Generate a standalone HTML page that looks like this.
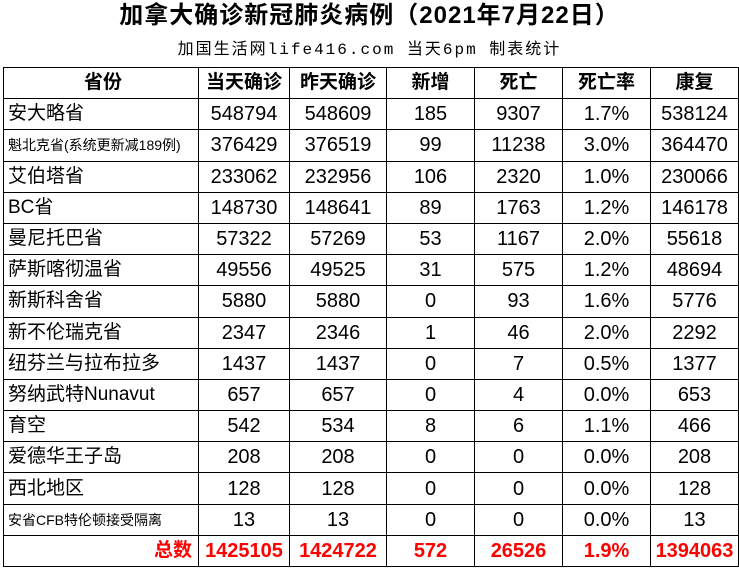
<!DOCTYPE html>
<html><head><meta charset="utf-8"><style>
body{margin:0;width:739px;height:581px;background:#fff;position:relative;overflow:hidden;font-family:"Liberation Sans","Noto Sans CJK SC",sans-serif;}
.t{position:absolute;left:0;width:739px;text-align:center;top:0;font-size:24px;font-weight:bold;line-height:32px;letter-spacing:1px}
.s{position:absolute;left:0;width:739px;text-align:center;top:38px;font-size:16px;line-height:24px;letter-spacing:2px;font-family:"Liberation Mono","Noto Sans CJK SC",monospace}
table{position:absolute;left:3px;top:67px;border-collapse:collapse;table-layout:fixed;width:735px;height:499px}
tr{height:31.2px}
td{border:1.5px solid #000;padding:0;text-align:center;font-size:20px;line-height:20px;white-space:nowrap;overflow:hidden}
td:first-child{text-align:left;padding-left:4px;font-size:19px}
tr.h td{font-weight:bold;text-align:center;font-size:19px}
tr.tot td{color:#f00;font-weight:bold}
tr.tot td:first-child{text-align:right;padding-right:6px}
.sm{font-size:14px!important}
</style></head><body>
<div class="t">加拿大确诊新冠肺炎病例（2021年7月22日）</div>
<div class="s">加国生活网life416.com 当天6pm 制表统计</div>
<table>
<colgroup><col style="width:195px"><col style="width:91px"><col style="width:97px"><col style="width:88px"><col style="width:88px"><col style="width:88px"><col style="width:88px"></colgroup>
<tr class="h"><td>省份</td><td>当天确诊</td><td>昨天确诊</td><td>新增</td><td>死亡</td><td>死亡率</td><td>康复</td></tr>
<tr><td>安大略省</td><td>548794</td><td>548609</td><td>185</td><td>9307</td><td>1.7%</td><td>538124</td></tr>
<tr><td class="sm">魁北克省(系统更新减189例)</td><td>376429</td><td>376519</td><td>99</td><td>11238</td><td>3.0%</td><td>364470</td></tr>
<tr><td>艾伯塔省</td><td>233062</td><td>232956</td><td>106</td><td>2320</td><td>1.0%</td><td>230066</td></tr>
<tr><td>BC省</td><td>148730</td><td>148641</td><td>89</td><td>1763</td><td>1.2%</td><td>146178</td></tr>
<tr><td>曼尼托巴省</td><td>57322</td><td>57269</td><td>53</td><td>1167</td><td>2.0%</td><td>55618</td></tr>
<tr><td>萨斯喀彻温省</td><td>49556</td><td>49525</td><td>31</td><td>575</td><td>1.2%</td><td>48694</td></tr>
<tr><td>新斯科舍省</td><td>5880</td><td>5880</td><td>0</td><td>93</td><td>1.6%</td><td>5776</td></tr>
<tr><td>新不伦瑞克省</td><td>2347</td><td>2346</td><td>1</td><td>46</td><td>2.0%</td><td>2292</td></tr>
<tr><td>纽芬兰与拉布拉多</td><td>1437</td><td>1437</td><td>0</td><td>7</td><td>0.5%</td><td>1377</td></tr>
<tr><td>努纳武特Nunavut</td><td>657</td><td>657</td><td>0</td><td>4</td><td>0.0%</td><td>653</td></tr>
<tr><td>育空</td><td>542</td><td>534</td><td>8</td><td>6</td><td>1.1%</td><td>466</td></tr>
<tr><td>爱德华王子岛</td><td>208</td><td>208</td><td>0</td><td>0</td><td>0.0%</td><td>208</td></tr>
<tr><td>西北地区</td><td>128</td><td>128</td><td>0</td><td>0</td><td>0.0%</td><td>128</td></tr>
<tr><td class="sm">安省CFB特伦顿接受隔离</td><td>13</td><td>13</td><td>0</td><td>0</td><td>0.0%</td><td>13</td></tr>
<tr class="tot"><td>总数</td><td>1425105</td><td>1424722</td><td>572</td><td>26526</td><td>1.9%</td><td>1394063</td></tr>
</table>
</body></html>
